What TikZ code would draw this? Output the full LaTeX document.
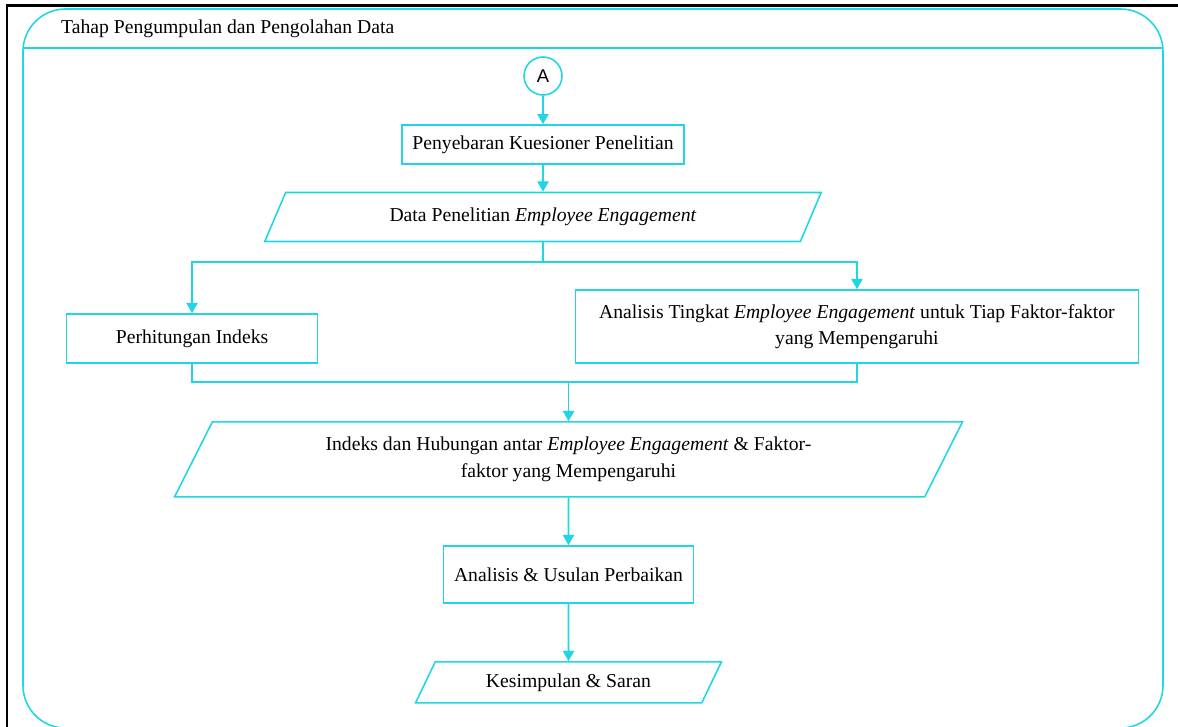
\documentclass[tikz,border=0pt]{standalone}
\usepackage{fontspec}
\setmainfont{Liberation Serif}
\newfontfamily\connfont{Liberation Sans}
\usetikzlibrary{positioning,shapes.geometric,arrows.meta}

\definecolor{lanecyan}{RGB}{32,214,228}

\tikzstyle{s} = [rectangle, draw=lanecyan, line width=0.9pt, text centered, inner sep=2pt, font=\fontsize{11.2}{15}\selectfont]
\tikzstyle{io} = [trapezium, trapezium left angle=63, trapezium right angle=117, trapezium stretches=true, draw=lanecyan, line width=0.9pt, align=center, inner sep=2pt, font=\fontsize{11.2}{15}\selectfont]
\tikzstyle{conn} = [circle, draw=lanecyan, line width=0.9pt, minimum size=0.76cm, inner sep=0pt, font=\connfont\fontsize{10.5}{12}\selectfont]
\tikzstyle{link} = [draw=lanecyan, line width=0.9pt]
\tikzstyle{arr} = [link, -{Triangle[length=5.8pt,width=6.4pt]}]

\begin{document}
\begin{tikzpicture}[x=0.02cm,y=0.02cm,node distance=1.4cm]
\useasboundingbox (0,0) rectangle (1178,-727);

% frame and lane
\draw[line width=1.3pt] (7,-727) -- (7,-5.5) -- (1178,-5.5);
\draw[link, rounded corners=0.85cm] (23,-9) rectangle (1163,-728);
\draw[link] (23,-48) -- (1163,-48);
\node[anchor=west, font=\fontsize{11.2}{15}\selectfont] (title) at (55,-29) {Tahap Pengumpulan dan Pengolahan Data};

\node[conn] (a) at (543,-76) {A};
\node[s, minimum width=5.64cm, minimum height=0.78cm] (kuesioner) [below of=a, yshift=0.03cm] {Penyebaran Kuesioner Penelitian};
\node[io, minimum width=11.14cm, minimum height=0.98cm] (data) [below of=kuesioner, yshift=-0.05cm] {Data Penelitian \textit{Employee Engagement}};

\node[s, minimum width=5.02cm, minimum height=0.98cm] (hitung) [below of=data, xshift=-7.02cm, yshift=-1.03cm] {Perhitungan Indeks};
\node[s, minimum width=11.26cm, minimum height=1.46cm, align=center] (analisis) [below of=data, xshift=6.28cm, yshift=-0.79cm] {Analisis Tingkat \textit{Employee Engagement} untuk Tiap Faktor-faktor\\yang Mempengaruhi};

\node[io, minimum width=15.78cm, minimum height=1.5cm] (indeks) [below of=data, xshift=0.51cm, yshift=-3.45cm] {Indeks dan Hubungan antar \textit{Employee Engagement} \& Faktor-\\faktor yang Mempengaruhi};
\node[s, minimum width=5cm, minimum height=1.14cm] (usulan) [below of=indeks, yshift=-0.9cm] {Analisis \& Usulan Perbaikan};
\node[io, minimum width=6.12cm, minimum height=0.82cm] (kesimpulan) [below of=usulan, yshift=-0.76cm] {Kesimpulan \& Saran};

\draw[arr] (a) -- (kuesioner);
\draw[arr] (kuesioner) -- (data);
\draw[link] (data.south) -- ++(0,-20) coordinate (split);
\draw[arr] (split) -| (hitung.north);
\draw[arr] (split) -| (analisis.north);
\draw[link] (hitung.south) -- ++(0,-18) coordinate (merge) -| (analisis.south);
\draw[arr] (merge -| indeks.north) -- (indeks.north);
\draw[arr] (indeks) -- (usulan);
\draw[arr] (usulan) -- (kesimpulan);

\end{tikzpicture}
\end{document}
